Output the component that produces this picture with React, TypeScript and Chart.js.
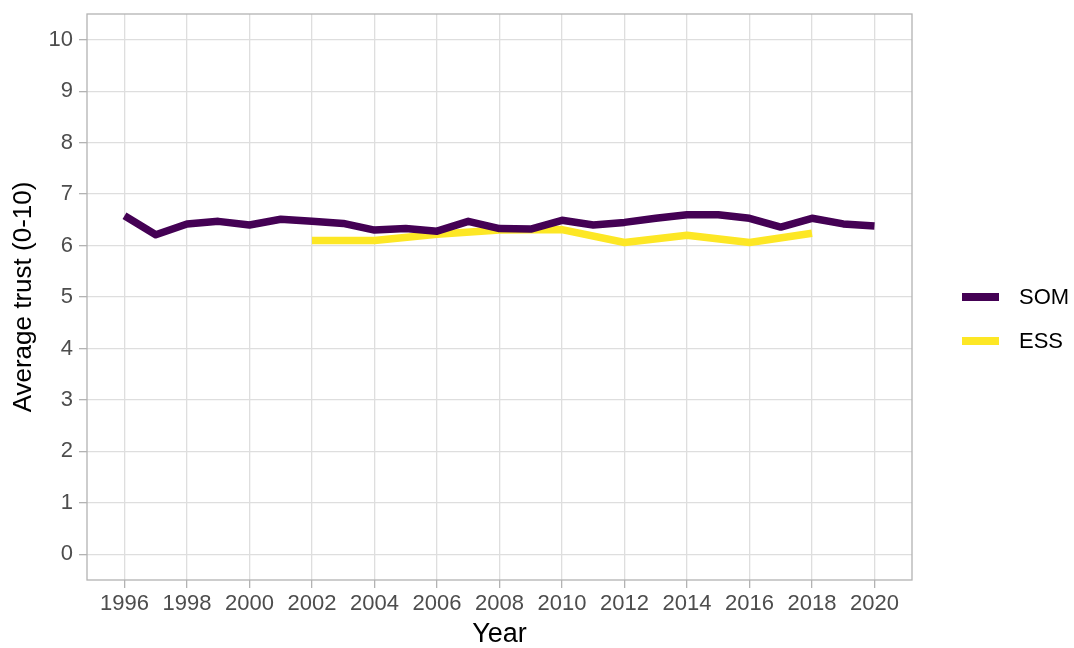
import React, { useEffect, useRef } from "react";
import { Chart, registerables } from "chart.js";

Chart.register(...registerables);

const SOM_YEARS = [1996, 1997, 1998, 1999, 2000, 2001, 2002, 2003, 2004, 2005, 2006, 2007, 2008, 2009, 2010, 2011, 2012, 2013, 2014, 2015, 2016, 2017, 2018, 2019, 2020];
const SOM_VALUES = [6.58, 6.21, 6.42, 6.47, 6.40, 6.51, 6.47, 6.43, 6.30, 6.33, 6.28, 6.47, 6.33, 6.32, 6.49, 6.40, 6.45, 6.53, 6.60, 6.60, 6.53, 6.36, 6.53, 6.42, 6.38];
const ESS_YEARS = [2002, 2004, 2006, 2008, 2010, 2012, 2014, 2016, 2018];
const ESS_VALUES = [6.10, 6.10, 6.22, 6.30, 6.31, 6.06, 6.20, 6.06, 6.24];
const X_TICKS = [1996, 1998, 2000, 2002, 2004, 2006, 2008, 2010, 2012, 2014, 2016, 2018, 2020];
const Y_TICKS = [0, 1, 2, 3, 4, 5, 6, 7, 8, 9, 10];
const SERIES_NAMES = ["SOM", "ESS"];
const SERIES_COLORS = ["#440154", "#FDE725"];
const X_TITLE = "Year";
const Y_TITLE = "Average trust (0-10)";

const FONT = "'Liberation Sans', Arial, Helvetica, sans-serif";

export default function App() {
  const ref = useRef<HTMLCanvasElement | null>(null);

  useEffect(() => {
    if (!ref.current) return;
    const W = 1074;
    const H = 648;
    const left = 87, right = 912, top = 14, bottom = 580;

    const frameAndLegend = {
      id: "frameAndLegend",
      afterDraw(chart: any) {
        const ctx = chart.ctx;
        const a = chart.chartArea;
        ctx.save();
        ctx.strokeStyle = "#B3B3B3";
        ctx.lineWidth = 1.3;
        ctx.strokeRect(a.left, a.top, a.right - a.left, a.bottom - a.top);
        // legend
        const ys = [297, 341];
        SERIES_NAMES.forEach((name, i) => {
          ctx.strokeStyle = SERIES_COLORS[i];
          ctx.lineWidth = 8;
          ctx.lineCap = "butt";
          ctx.beginPath();
          ctx.moveTo(962, ys[i]);
          ctx.lineTo(999, ys[i]);
          ctx.stroke();
          ctx.fillStyle = "#000000";
          ctx.font = `22px ${FONT}`;
          ctx.textAlign = "left";
          ctx.textBaseline = "middle";
          ctx.fillText(name, 1019, ys[i] + 1);
        });
        ctx.restore();
      },
    };

    const chart = new Chart(ref.current, {
      type: "line",
      data: {
        datasets: [
          {
            label: SERIES_NAMES[0],
            data: SOM_YEARS.map((x, i) => ({ x, y: SOM_VALUES[i] })),
            borderColor: SERIES_COLORS[0],
            backgroundColor: SERIES_COLORS[0],
            borderWidth: 7.5,
            pointRadius: 0,
            tension: 0,
            borderJoinStyle: "round",
            borderCapStyle: "butt",
          },
          {
            label: SERIES_NAMES[1],
            data: ESS_YEARS.map((x, i) => ({ x, y: ESS_VALUES[i] })),
            borderColor: SERIES_COLORS[1],
            backgroundColor: SERIES_COLORS[1],
            borderWidth: 7.5,
            pointRadius: 0,
            tension: 0,
            borderJoinStyle: "round",
            borderCapStyle: "butt",
          },
        ],
      },
      options: {
        animation: false,
        responsive: false,
        maintainAspectRatio: false,
        layout: { padding: { left: 0, top: top, right: W - right, bottom: 0 } },
        plugins: {
          legend: { display: false },
          tooltip: { enabled: false },
        },
        scales: {
          x: {
            type: "linear",
            min: 1994.8,
            max: 2021.2,
            afterBuildTicks: (s: any) => {
              s.ticks = X_TICKS.map((v) => ({ value: v }));
            },
            afterFit: (s: any) => {
              s.height = H - bottom;
              s.paddingLeft = 0;
              s.paddingRight = 0;
            },
            grid: {
              color: "#DEDEDE",
              lineWidth: 1.3,
              tickColor: "#B3B3B3",
              tickLength: 8,
              drawTicks: true,
            },
            border: { display: false },
            ticks: {
              autoSkip: false,
              maxRotation: 0,
              minRotation: 0,
              padding: 3,
              color: "#4D4D4D",
              font: { family: FONT, size: 22 },
              callback: (v: any) => String(v),
            },
            title: {
              display: true,
              text: X_TITLE,
              color: "#000000",
              font: { family: FONT, size: 27, lineHeight: 1 },
              padding: { top: 0, bottom: 0 },
            },
          },
          y: {
            type: "linear",
            min: -0.5,
            max: 10.5,
            afterBuildTicks: (s: any) => {
              s.ticks = Y_TICKS.map((v) => ({ value: v }));
            },
            afterFit: (s: any) => {
              s.width = left;
              s.paddingTop = 0;
              s.paddingBottom = 0;
            },
            grid: {
              color: "#DEDEDE",
              lineWidth: 1.3,
              tickColor: "#B3B3B3",
              tickLength: 8,
              drawTicks: true,
            },
            border: { display: false },
            ticks: {
              padding: 6,
              color: "#4D4D4D",
              font: { family: FONT, size: 22 },
              callback: (v: any) => String(v),
            },
            title: {
              display: true,
              text: Y_TITLE,
              color: "#000000",
              font: { family: FONT, size: 26, lineHeight: 1 },
              padding: { top: 11, bottom: 0 },
            },
          },
        },
      },
      plugins: [frameAndLegend],
    } as any);

    return () => chart.destroy();
  }, []);

  return (
    <div style={{ position: "fixed", left: 0, top: 0, width: 1074, height: 648, background: "#FFFFFF" }}>
      <canvas ref={ref} width={1074} height={648} style={{ display: "block", width: 1074, height: 648 }} />
    </div>
  );
}
